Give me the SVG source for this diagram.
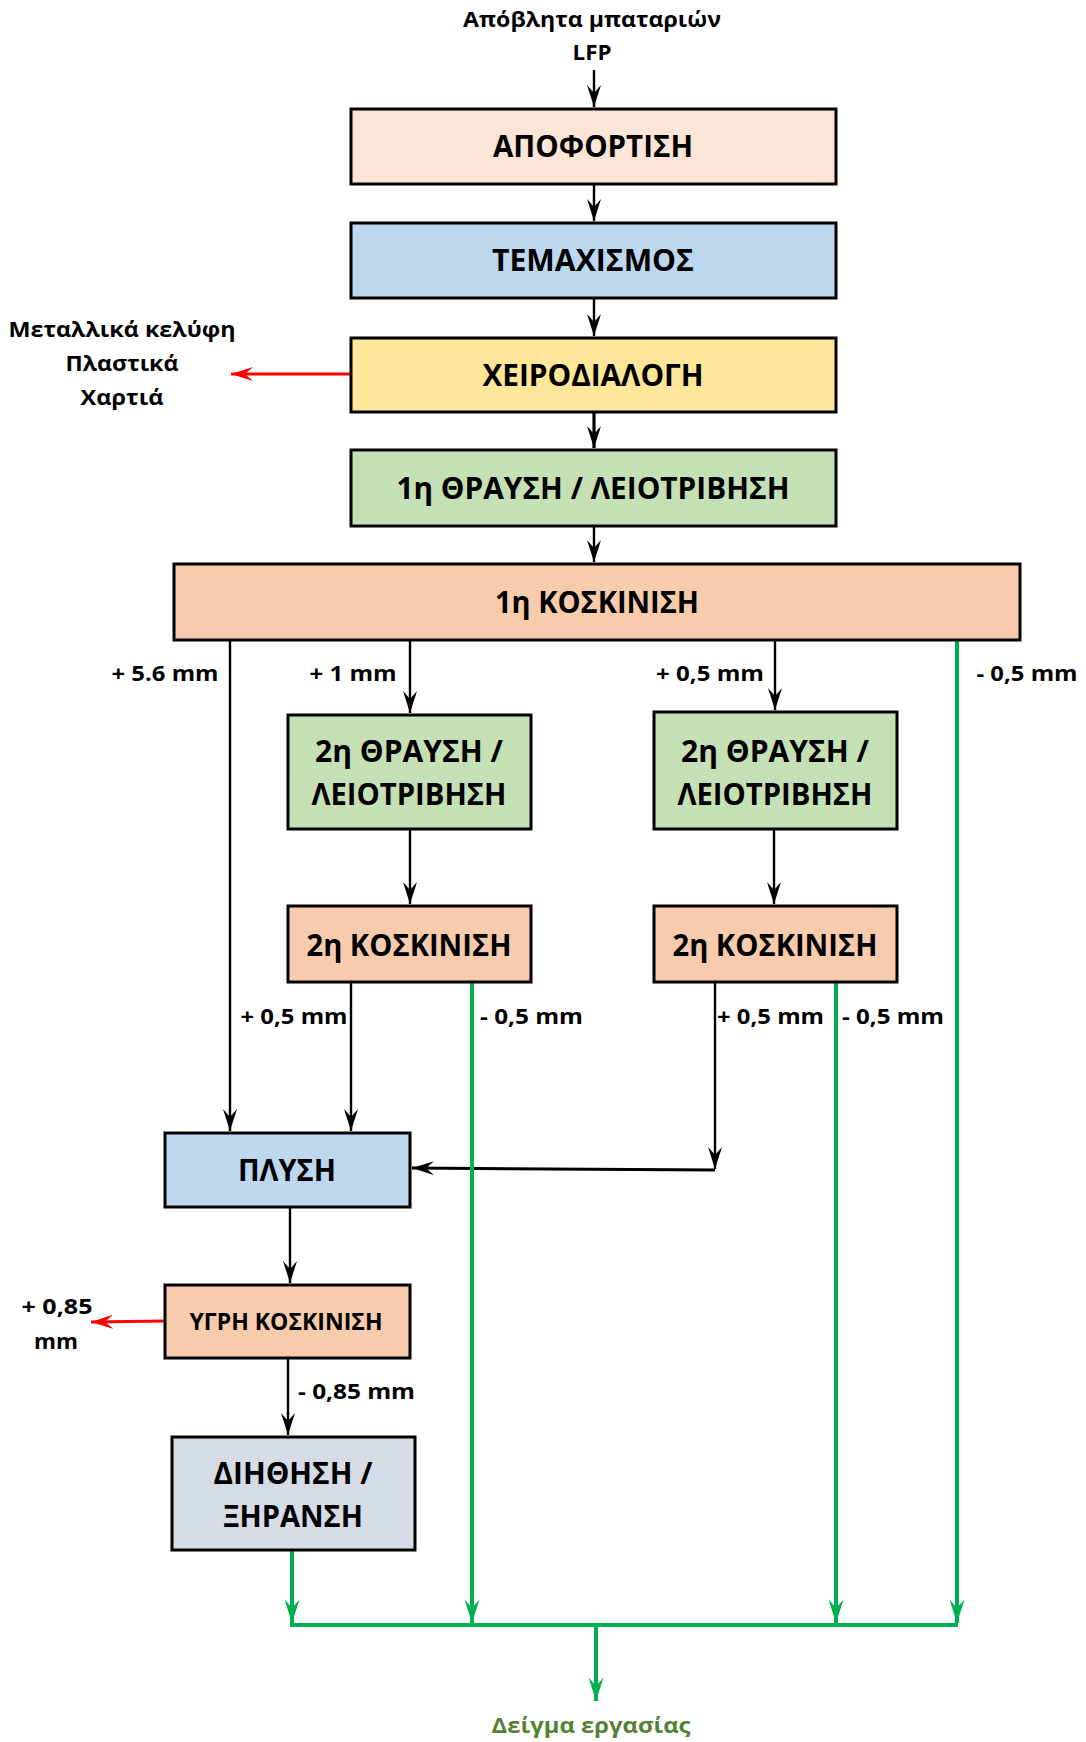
<svg xmlns="http://www.w3.org/2000/svg" width="1086" height="1742" viewBox="0 0 1086 1742">
<defs>
<style>
.box{stroke:#000;stroke-width:3}
.t{font-family:"Open Sans",Lato,"Liberation Sans",sans-serif;font-weight:bold;fill:#000;text-anchor:middle}
.big{font-size:30px}
.lbl{font-size:21px}
.blk{stroke:#000;stroke-width:2.4;fill:none}
.grn{stroke:#00B050;stroke-width:4;fill:none}
.red{stroke:#FF0000;stroke-width:3;fill:none}
</style>
<marker id="abd" viewBox="0 0 22 14" refX="22" refY="7" markerWidth="22" markerHeight="14" markerUnits="userSpaceOnUse" orient="auto">
<path d="M0,0 L22,7 L0,14 L8,7 Z" fill="#000"/>
</marker>
<marker id="ag" viewBox="0 0 22 14" refX="22" refY="7" markerWidth="24" markerHeight="15" markerUnits="userSpaceOnUse" orient="auto">
<path d="M0,0 L22,7 L0,14 L8,7 Z" fill="#00B050"/>
</marker>
<marker id="ar" viewBox="0 0 22 14" refX="22" refY="7" markerWidth="22" markerHeight="14" markerUnits="userSpaceOnUse" orient="auto">
<path d="M0,0 L22,7 L0,14 L8,7 Z" fill="#FF0000"/>
</marker>
</defs>
<rect width="1086" height="1742" fill="#fff"/>

<g id="connectors">
<line class="blk" x1="594" y1="70" x2="594" y2="107" marker-end="url(#abd)"/>
<line class="blk" x1="594" y1="184" x2="594" y2="221" marker-end="url(#abd)"/>
<line class="blk" x1="594" y1="298" x2="594" y2="336" marker-end="url(#abd)"/>
<line class="blk" x1="594" y1="412" x2="594" y2="448" marker-end="url(#abd)" style="stroke-width:3.2"/>
<line class="blk" x1="594" y1="526" x2="594" y2="562" marker-end="url(#abd)"/>
<line class="red" x1="351" y1="374" x2="231" y2="374" marker-end="url(#ar)"/>
<line class="blk" x1="230" y1="640" x2="230" y2="1131" marker-end="url(#abd)"/>
<line class="blk" x1="410" y1="640" x2="410" y2="713" marker-end="url(#abd)"/>
<line class="blk" x1="775" y1="640" x2="775" y2="710" marker-end="url(#abd)"/>
<line class="blk" x1="410" y1="829" x2="410" y2="904" marker-end="url(#abd)"/>
<line class="blk" x1="774" y1="829" x2="774" y2="904" marker-end="url(#abd)"/>
<line class="blk" x1="351" y1="982" x2="351" y2="1131" marker-end="url(#abd)"/>
<line class="blk" x1="715" y1="982" x2="715" y2="1169" marker-end="url(#abd)"/>
<line class="blk" x1="715" y1="1170" x2="412" y2="1168" marker-end="url(#abd)" style="stroke-width:3"/>
<line class="blk" x1="290" y1="1207" x2="290" y2="1283" marker-end="url(#abd)"/>
<line class="red" x1="165" y1="1321" x2="91" y2="1322" marker-end="url(#ar)"/>
<line class="blk" x1="288" y1="1358" x2="288" y2="1435" marker-end="url(#abd)"/>
<line class="grn" x1="957" y1="640" x2="957" y2="1623" marker-end="url(#ag)"/>
<line class="grn" x1="472" y1="982" x2="472" y2="1623" marker-end="url(#ag)"/>
<line class="grn" x1="836" y1="982" x2="836" y2="1623" marker-end="url(#ag)"/>
<line class="grn" x1="292" y1="1550" x2="292" y2="1623" marker-end="url(#ag)"/>
<line class="grn" x1="290" y1="1625" x2="958" y2="1625"/>
<line class="grn" x1="596" y1="1625" x2="596" y2="1701" marker-end="url(#ag)"/>
</g>

<g id="labels">
<text class="t lbl" x="592" y="27" textLength="258" lengthAdjust="spacingAndGlyphs">Απόβλητα μπαταριών</text>
<text class="t lbl" x="592" y="60" textLength="39" lengthAdjust="spacingAndGlyphs">LFP</text>
<text class="t lbl" x="122" y="337" textLength="227" lengthAdjust="spacingAndGlyphs">Μεταλλικά κελύφη</text>
<text class="t lbl" x="122" y="371" textLength="113" lengthAdjust="spacingAndGlyphs">Πλαστικά</text>
<text class="t lbl" x="122" y="405" textLength="83" lengthAdjust="spacingAndGlyphs">Χαρτιά</text>
<text class="t lbl" x="165" y="681" textLength="107" lengthAdjust="spacingAndGlyphs">+ 5.6 mm</text>
<text class="t lbl" x="353" y="681" textLength="87" lengthAdjust="spacingAndGlyphs">+ 1 mm</text>
<text class="t lbl" x="710" y="681" textLength="108" lengthAdjust="spacingAndGlyphs">+ 0,5 mm</text>
<text class="t lbl" x="1027" y="681" textLength="101" lengthAdjust="spacingAndGlyphs">- 0,5 mm</text>
<text class="t lbl" x="294" y="1024" textLength="107" lengthAdjust="spacingAndGlyphs">+ 0,5 mm</text>
<text class="t lbl" x="480" y="1024" style="text-anchor:start" textLength="103" lengthAdjust="spacingAndGlyphs">- 0,5 mm</text>
<text class="t lbl" x="717" y="1024" style="text-anchor:start" textLength="107" lengthAdjust="spacingAndGlyphs">+ 0,5 mm</text>
<text class="t lbl" x="842" y="1024" style="text-anchor:start" textLength="102" lengthAdjust="spacingAndGlyphs">- 0,5 mm</text>
<text class="t lbl" x="57" y="1314" textLength="71" lengthAdjust="spacingAndGlyphs">+ 0,85</text>
<text class="t lbl" x="56" y="1349" textLength="44" lengthAdjust="spacingAndGlyphs">mm</text>
<text class="t lbl" x="298" y="1399" style="text-anchor:start" textLength="117" lengthAdjust="spacingAndGlyphs">- 0,85 mm</text>
<text class="t lbl" x="591" y="1733" style="fill:#548235" textLength="199" lengthAdjust="spacingAndGlyphs">Δείγμα εργασίας</text>
</g>

<g id="n-apofortisi">
<rect class="box" x="351" y="109" width="485" height="75" fill="#FBE5D6"/>
<text class="t big" x="593" y="157" textLength="200" lengthAdjust="spacingAndGlyphs">ΑΠΟΦΟΡΤΙΣΗ</text>
</g>
<g id="n-temaxismos">
<rect class="box" x="351" y="223" width="485" height="75" fill="#BDD7EE"/>
<text class="t big" x="593" y="271" textLength="202" lengthAdjust="spacingAndGlyphs">ΤΕΜΑΧΙΣΜΟΣ</text>
</g>
<g id="n-xeirodialogi">
<rect class="box" x="351" y="338" width="485" height="74" fill="#FFE699"/>
<text class="t big" x="593" y="386" textLength="221" lengthAdjust="spacingAndGlyphs">ΧΕΙΡΟΔΙΑΛΟΓΗ</text>
</g>
<g id="n-thrausi1">
<rect class="box" x="351" y="450" width="485" height="76" fill="#C5E0B4"/>
<text class="t big" x="593" y="499" textLength="393" lengthAdjust="spacingAndGlyphs">1η ΘΡΑΥΣΗ / ΛΕΙΟΤΡΙΒΗΣΗ</text>
</g>
<g id="n-koskinisi1">
<rect class="box" x="174" y="564" width="846" height="76" fill="#F8CBAD"/>
<text class="t big" x="597" y="613" textLength="204" lengthAdjust="spacingAndGlyphs">1η ΚΟΣΚΙΝΙΣΗ</text>
</g>
<g id="n-thrausi2a">
<rect class="box" x="288" y="715" width="243" height="114" fill="#C5E0B4"/>
<text class="t big" x="409" y="762" textLength="188" lengthAdjust="spacingAndGlyphs">2η ΘΡΑΥΣΗ /</text>
<text class="t big" x="409" y="805" textLength="195" lengthAdjust="spacingAndGlyphs">ΛΕΙΟΤΡΙΒΗΣΗ</text>
</g>
<g id="n-thrausi2b">
<rect class="box" x="654" y="712" width="243" height="117" fill="#C5E0B4"/>
<text class="t big" x="775" y="762" textLength="188" lengthAdjust="spacingAndGlyphs">2η ΘΡΑΥΣΗ /</text>
<text class="t big" x="775" y="805" textLength="195" lengthAdjust="spacingAndGlyphs">ΛΕΙΟΤΡΙΒΗΣΗ</text>
</g>
<g id="n-koskinisi2a">
<rect class="box" x="288" y="906" width="243" height="76" fill="#F8CBAD"/>
<text class="t big" x="409" y="956" textLength="205" lengthAdjust="spacingAndGlyphs">2η ΚΟΣΚΙΝΙΣΗ</text>
</g>
<g id="n-koskinisi2b">
<rect class="box" x="654" y="906" width="243" height="76" fill="#F8CBAD"/>
<text class="t big" x="775" y="956" textLength="205" lengthAdjust="spacingAndGlyphs">2η ΚΟΣΚΙΝΙΣΗ</text>
</g>
<g id="n-plysi">
<rect class="box" x="165" y="1133" width="245" height="74" fill="#BDD7EE"/>
<text class="t big" x="287" y="1181" textLength="98" lengthAdjust="spacingAndGlyphs">ΠΛΥΣΗ</text>
</g>
<g id="n-ygri">
<rect class="box" x="165" y="1285" width="245" height="73" fill="#F8CBAD"/>
<text class="t" x="286" y="1330" style="font-size:23px" textLength="193" lengthAdjust="spacingAndGlyphs">ΥΓΡΗ ΚΟΣΚΙΝΙΣΗ</text>
</g>
<g id="n-diithisi">
<rect class="box" x="172" y="1437" width="243" height="113" fill="#D6DCE5"/>
<text class="t big" x="293" y="1484" textLength="159" lengthAdjust="spacingAndGlyphs">ΔΙΗΘΗΣΗ /</text>
<text class="t big" x="293" y="1527" textLength="140" lengthAdjust="spacingAndGlyphs">ΞΗΡΑΝΣΗ</text>
</g>
</svg>
